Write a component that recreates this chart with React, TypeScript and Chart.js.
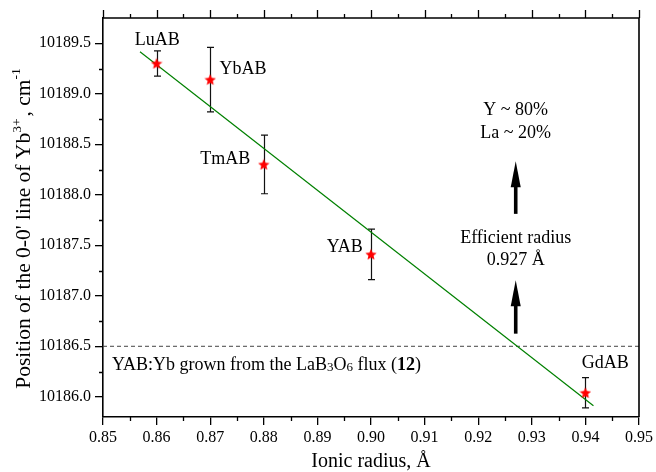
import React, { useEffect, useRef } from 'react';
import { Chart, registerables } from 'chart.js';

Chart.register(...registerables);

// ---- data ----
const compounds = ['LuAB', 'YbAB', 'TmAB', 'YAB', 'GdAB'];
const ionicRadius = [0.86, 0.87, 0.88, 0.9, 0.94];
const linePosition = [10189.3, 10189.14, 10188.3, 10187.41, 10186.04];
const lineError = [0.125, 0.32, 0.29, 0.25, 0.15];
const labelX = [0.8601, 0.8761, 0.8728, 0.8951, 0.9437];
const labelY = [10189.527, 10189.24, 10188.348, 10187.477, 10186.328];
const fitX = [0.8569, 0.9415];
const fitY = [10189.415, 10185.912];
const referenceLevel = 10186.5;
const effectiveRadius = 0.927;
const xTickValues = [0.85, 0.86, 0.87, 0.88, 0.89, 0.9, 0.91, 0.92, 0.93, 0.94, 0.95];
const xMinorValues = [0.855, 0.865, 0.875, 0.885, 0.895, 0.905, 0.915, 0.925, 0.935, 0.945];
const yTickValues = [10186.0, 10186.5, 10187.0, 10187.5, 10188.0, 10188.5, 10189.0, 10189.5];
const yMinorValues = [10186.25, 10186.75, 10187.25, 10187.75, 10188.25, 10188.75, 10189.25];
const arrowTipY = [10188.332, 10187.153];
const arrowBaseY = [10187.811, 10186.625];
const compositionLines = ['Y ~ 80%', 'La ~ 20%'];
const compositionY = [10188.834, 10188.606];
const effLines = ['Efficient radius', '0.927 Å'];
const effY = [10187.566, 10187.348];
const fluxNoteY = 10186.328;
const fluxNoteX = 0.8517;

const SERIF = '"Liberation Serif", "Times New Roman", serif';

function makeStar(size: number, color: string) {
  const c = document.createElement('canvas');
  c.width = size;
  c.height = size;
  const ctx = c.getContext('2d')!;
  const cx = size / 2;
  const cy = size / 2 + 0.5;
  const R = size / 2;
  const r = R * 0.45;
  ctx.beginPath();
  for (let i = 0; i < 10; i++) {
    const ang = -Math.PI / 2 + (i * Math.PI) / 5;
    const rad = i % 2 === 0 ? R : r;
    ctx.lineTo(cx + rad * Math.cos(ang), cy + rad * Math.sin(ang));
  }
  ctx.closePath();
  ctx.fillStyle = color;
  ctx.fill();
  return c;
}

type Part = { t: string; size: number; bold?: boolean; dy?: number; gap?: number };

function drawRich(ctx: CanvasRenderingContext2D, parts: Part[], x: number, y: number, align: 'left' | 'center') {
  let total = 0;
  const widths = parts.map((p) => {
    ctx.font = `${p.bold ? 'bold ' : ''}${p.size}px ${SERIF}`;
    const w = ctx.measureText(p.t).width + (p.gap || 0);
    total += w;
    return w;
  });
  let cx = align === 'center' ? x - total / 2 : x;
  ctx.textAlign = 'left';
  ctx.textBaseline = 'alphabetic';
  parts.forEach((p, i) => {
    ctx.font = `${p.bold ? 'bold ' : ''}${p.size}px ${SERIF}`;
    ctx.fillText(p.t, cx + (p.gap || 0), y + (p.dy || 0));
    cx += widths[i];
  });
}

const overlayPlugin = {
  id: 'overlay',
  beforeDatasetsDraw(chart: any) {
    const { ctx, chartArea } = chart;
    const xs = chart.scales.x;
    const ys = chart.scales.y;
    ctx.save();
    // dashed reference level
    const yRef = ys.getPixelForValue(referenceLevel);
    ctx.strokeStyle = '#444';
    ctx.lineWidth = 1;
    ctx.setLineDash([4, 3]);
    ctx.beginPath();
    ctx.moveTo(chartArea.left, yRef);
    ctx.lineTo(chartArea.right, yRef);
    ctx.stroke();
    ctx.setLineDash([]);
    // error bars
    ctx.strokeStyle = '#111';
    ctx.lineWidth = 1.2;
    ionicRadius.forEach((xv, i) => {
      const px = Math.round(xs.getPixelForValue(xv)) + 0.5;
      const top = ys.getPixelForValue(linePosition[i] + lineError[i]);
      const bot = ys.getPixelForValue(linePosition[i] - lineError[i]);
      ctx.beginPath();
      ctx.moveTo(px, top);
      ctx.lineTo(px, bot);
      ctx.moveTo(px - 3.5, top);
      ctx.lineTo(px + 3.5, top);
      ctx.moveTo(px - 3.5, bot);
      ctx.lineTo(px + 3.5, bot);
      ctx.stroke();
    });
    ctx.restore();
  },
  afterDraw(chart: any) {
    const { ctx, chartArea } = chart;
    const xs = chart.scales.x;
    const ys = chart.scales.y;
    ctx.save();
    ctx.fillStyle = '#000';
    ctx.strokeStyle = '#000';
    // top and right frame
    ctx.lineWidth = 1.6;
    ctx.beginPath();
    ctx.moveTo(chartArea.left, chartArea.top);
    ctx.lineTo(chartArea.right, chartArea.top);
    ctx.lineTo(chartArea.right, chartArea.bottom);
    ctx.stroke();
    // ticks
    ctx.lineWidth = 1.3;
    ctx.beginPath();
    xTickValues.forEach((v) => {
      const px = Math.round(xs.getPixelForValue(v)) + 0.5;
      ctx.moveTo(px, chartArea.top);
      ctx.lineTo(px, chartArea.top - 8);
    });
    xMinorValues.forEach((v) => {
      const px = Math.round(xs.getPixelForValue(v)) + 0.5;
      ctx.moveTo(px, chartArea.bottom);
      ctx.lineTo(px, chartArea.bottom + 4);
      ctx.moveTo(px, chartArea.top);
      ctx.lineTo(px, chartArea.top - 4);
    });
    yMinorValues.forEach((v) => {
      const py = Math.round(ys.getPixelForValue(v)) + 0.5;
      ctx.moveTo(chartArea.left, py);
      ctx.lineTo(chartArea.left - 4, py);
    });
    ctx.stroke();

    // compound labels
    ctx.font = `18px ${SERIF}`;
    ctx.textAlign = 'center';
    ctx.textBaseline = 'middle';
    compounds.forEach((c, i) => {
      ctx.fillText(c, xs.getPixelForValue(labelX[i]), ys.getPixelForValue(labelY[i]));
    });
    const ex = xs.getPixelForValue(effectiveRadius);
    compositionLines.forEach((t, i) => ctx.fillText(t, ex, ys.getPixelForValue(compositionY[i])));
    effLines.forEach((t, i) => ctx.fillText(t, ex, ys.getPixelForValue(effY[i])));

    // flux note
    drawRich(
      ctx,
      [
        { t: 'YAB:Yb grown from the LaB', size: 18 },
        { t: '3', size: 13, dy: 1 },
        { t: 'O', size: 18 },
        { t: '6', size: 13, dy: 1 },
        { t: ' flux (', size: 18 },
        { t: '12', size: 18, bold: true },
        { t: ')', size: 18 },
      ],
      xs.getPixelForValue(fluxNoteX),
      ys.getPixelForValue(fluxNoteY) + 6,
      'left'
    );

    // arrows
    arrowTipY.forEach((tv, i) => {
      const tip = ys.getPixelForValue(tv);
      const base = ys.getPixelForValue(arrowBaseY[i]);
      const headLen = 26;
      const headHalf = 5;
      ctx.lineWidth = 3.6;
      ctx.beginPath();
      ctx.moveTo(ex, base);
      ctx.lineTo(ex, tip + headLen - 2);
      ctx.stroke();
      ctx.beginPath();
      ctx.moveTo(ex, tip);
      ctx.lineTo(ex - headHalf, tip + headLen);
      ctx.lineTo(ex + headHalf, tip + headLen);
      ctx.closePath();
      ctx.fill();
    });

    // axis titles
    drawRich(
      ctx,
      [{ t: 'Ionic radius, Å', size: 20 }],
      (chartArea.left + chartArea.right) / 2,
      chartArea.bottom + 50,
      'center'
    );
    ctx.save();
    ctx.translate(30, (chartArea.top + chartArea.bottom) / 2 + 11);
    ctx.rotate(-Math.PI / 2);
    drawRich(
      ctx,
      [
        { t: "Position of the 0-0' line of Yb", size: 21.5 },
        { t: '3+', size: 13.5, dy: -9 },
        { t: ', cm', size: 21.5, gap: 2 },
        { t: '-1', size: 13.5, dy: -10 },
      ],
      0,
      0,
      'center'
    );
    ctx.restore();
    ctx.restore();
  },
};

export default function App() {
  const ref = useRef<HTMLCanvasElement | null>(null);
  useEffect(() => {
    if (!ref.current) return;
    const star = makeStar(12, '#ff0000');
    const tickFont = { family: SERIF, size: 16 };
    const chart = new Chart(ref.current, {
      type: 'scatter',
      data: {
        datasets: [
          {
            data: ionicRadius.map((x, i) => ({ x, y: linePosition[i] })),
            pointStyle: star as any,
            pointRadius: 6,
            showLine: false,
          },
          {
            data: fitX.map((x, i) => ({ x, y: fitY[i] })),
            showLine: true,
            borderColor: '#008000',
            borderWidth: 1.2,
            pointRadius: 0,
            fill: false,
          },
        ],
      },
      options: {
        responsive: false,
        animation: false,
        events: [],
        layout: { padding: { top: 18, right: 17, left: 0, bottom: 0 } },
        plugins: { legend: { display: false }, tooltip: { enabled: false }, title: { display: false } },
        scales: {
          x: {
            type: 'linear',
            min: 0.85,
            max: 0.95,
            afterBuildTicks: (s: any) => {
              s.ticks = xTickValues.map((v) => ({ value: v }));
            },
            afterFit: (s: any) => {
              s.height = 55;
            },
            ticks: {
              font: tickFont,
              color: '#000',
              padding: 3,
              maxRotation: 0,
              autoSkip: false,
              callback: (v: any) => Number(v).toFixed(2),
            },
            grid: { display: true, drawOnChartArea: false, drawTicks: true, tickLength: 8, color: '#000', lineWidth: 1.3 },
            border: { display: true, color: '#000', width: 1.6 },
          },
          y: {
            type: 'linear',
            min: 10185.8,
            max: 10189.75,
            afterBuildTicks: (s: any) => {
              s.ticks = yTickValues.map((v) => ({ value: v }));
            },
            afterFit: (s: any) => {
              s.width = 103;
            },
            ticks: {
              font: tickFont,
              color: '#000',
              padding: 4,
              autoSkip: false,
              callback: (v: any) => Number(v).toFixed(1),
            },
            grid: { display: true, drawOnChartArea: false, drawTicks: true, tickLength: 8, color: '#000', lineWidth: 1.3 },
            border: { display: true, color: '#000', width: 1.6 },
          },
        },
      },
      plugins: [overlayPlugin],
    });
    return () => chart.destroy();
  }, []);
  return (
    <div style={{ position: 'absolute', left: 0, top: 0, width: 656, height: 472, background: '#fff' }}>
      <canvas ref={ref} width={656} height={472} style={{ display: 'block' }} />
    </div>
  );
}
